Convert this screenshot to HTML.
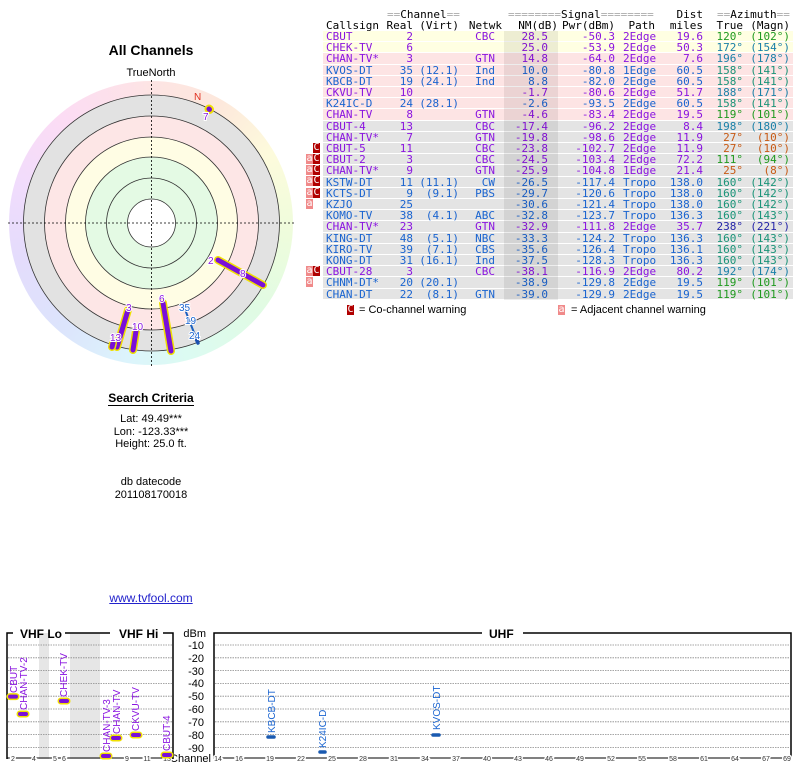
<!DOCTYPE html>
<html><head><meta charset="utf-8"><style>
body{margin:0;width:800px;height:768px;background:#fff;position:relative;overflow:hidden;font-family:"Liberation Sans",sans-serif}
.t{position:absolute;white-space:nowrap}
.c{text-align:center}
.tb{position:absolute;left:323px;width:470px;font-family:"DejaVu Sans Mono","Liberation Mono",monospace;font-size:11px;line-height:11px}
.r{position:absolute;left:0;width:470px;height:10.2px;font-family:"DejaVu Sans Mono","Liberation Mono",monospace;font-size:11px;line-height:11px;border-bottom:1px solid #fff}
.r span,.tb span{position:absolute;top:0;white-space:nowrap}
.y{background:#ffffe2}.p{background:#fde4e4}.g{background:#e4e4e4}
.cs{left:3px}.re{right:380px}.vi{right:334px}.nw{right:298px}.nm{right:245px}.pw{right:178px}.pa{left:300px}.di{right:90px}.tr{right:50px}.mg{right:3px}
.P{color:#8a14e0}.B{color:#1a64d0}
.gr{color:#1f9a1f}.tl{color:#1a80a8}.tg{color:#1a9478}.or{color:#c85a14}.db{color:#2424a8}
.eq{color:#aaa}
.w{position:absolute;height:10px;font-family:"DejaVu Sans Mono",monospace;font-size:10px;line-height:10px;color:#fff;text-align:center;width:7px}
.wa{background:#f08a8a}.wc{background:#b00000}
</style></head><body>
<div class="t c" style="left:51px;width:200px;top:42px;font-size:14px;font-weight:bold">All Channels</div>
<div class="t c" style="left:101px;width:100px;top:67px;font-size:11px">TrueNorth</div>
<div class="t c" style="left:51px;width:200px;top:391px;font-size:12px;font-weight:bold;"><span style="border-bottom:1px solid #000">Search Criteria</span></div>
<div class="t c" style="left:51px;width:200px;top:413px;font-size:11px;line-height:12.5px">Lat: 49.49***<br>Lon: -123.33***<br>Height: 25.0 ft.</div>
<div class="t c" style="left:51px;width:200px;top:476px;font-size:11px;line-height:12.5px">db datecode<br>201108170018</div>
<div class="t c" style="left:51px;width:200px;top:591px;font-size:12px;color:#2222cc;text-decoration:underline">www.tvfool.com</div>

<div style="position:absolute;left:9px;top:81px;width:284px;height:284px;border-radius:50%;background:conic-gradient(#fde4e4 0deg,#fde8dc 30deg,#fdfbdc 60deg,#eefcdc 95deg,#e0fbe4 130deg,#dcfbf2 165deg,#dcf4fc 190deg,#dce4fc 220deg,#e4dcfc 255deg,#f0dcfc 285deg,#fcdcf4 320deg,#fde4e4 360deg)"></div>
<svg style="position:absolute;left:0;top:0" width="300" height="380">
<circle cx="151.5" cy="223" r="128" fill="#e2e2e2" stroke="#333" stroke-width="0.8"/>
<circle cx="151.5" cy="223" r="107" fill="#fde6e6" stroke="#333" stroke-width="0.8"/>
<circle cx="151.5" cy="223" r="86" fill="#fffde4" stroke="#333" stroke-width="0.8"/>
<circle cx="151.5" cy="223" r="66" fill="#e4fae4" stroke="#333" stroke-width="0.8"/>
<circle cx="151.5" cy="223" r="45" fill="#e4fae4" stroke="#333" stroke-width="0.8"/>
<circle cx="151.5" cy="223" r="24" fill="#fff" stroke="#333" stroke-width="0.8"/>
<line x1="8" y1="223" x2="296" y2="223" stroke="#000" stroke-width="0.8" stroke-dasharray="2,2"/>
<line x1="151.5" y1="80" x2="151.5" y2="367" stroke="#000" stroke-width="0.8" stroke-dasharray="2,2"/>
<text x="194" y="100" font-size="10" fill="#e03020" font-family="Liberation Sans">N</text>
<g stroke-linecap="round">
<line x1="209" y1="109" x2="209.5" y2="109.5" stroke="#f0e000" stroke-width="9"/>
<line x1="209" y1="109" x2="209.5" y2="109.5" stroke="#7a10d8" stroke-width="5"/>
<line x1="218" y1="260" x2="263" y2="285" stroke="#f0e000" stroke-width="8"/>
<line x1="218" y1="260" x2="263" y2="285" stroke="#7a10d8" stroke-width="5"/>
<line x1="163" y1="303" x2="171" y2="351" stroke="#f0e000" stroke-width="8"/>
<line x1="163" y1="303" x2="171" y2="351" stroke="#7a10d8" stroke-width="5"/>
<line x1="128" y1="310" x2="117" y2="347" stroke="#f0e000" stroke-width="8"/>
<line x1="128" y1="310" x2="117" y2="347" stroke="#7a10d8" stroke-width="5"/>
<line x1="113" y1="343" x2="112" y2="347" stroke="#f0e000" stroke-width="8"/>
<line x1="113" y1="343" x2="112" y2="347" stroke="#7a10d8" stroke-width="5"/>
<line x1="136" y1="331" x2="133" y2="350" stroke="#f0e000" stroke-width="8"/>
<line x1="136" y1="331" x2="133" y2="350" stroke="#7a10d8" stroke-width="5"/>
<line x1="186" y1="312" x2="198" y2="343" stroke="#1a60c0" stroke-width="2"/>
<line x1="194" y1="334" x2="198" y2="343" stroke="#1a50b0" stroke-width="3.5"/>
</g>
<g font-family="Liberation Sans" font-size="10" fill="#8a14e0" stroke="#fff" stroke-width="2" paint-order="stroke">
<text x="203" y="120">7</text><text x="208" y="264">2</text><text x="240" y="277">8</text>
<text x="159" y="302">6</text><text x="126" y="311">3</text><text x="132" y="330">10</text><text x="110" y="341">13</text>
</g>
<g font-family="Liberation Sans" font-size="10" fill="#1a64d0" stroke="#fff" stroke-width="2" paint-order="stroke">
<text x="179" y="311">35</text><text x="185" y="324">19</text><text x="189" y="339">24</text>
</g>
</svg>

<div class="tb" style="top:9px;height:11px"><span style="left:64px"><span class="eq" style="position:static">==</span>Channel<span class="eq" style="position:static">==</span></span><span style="left:185px"><span class="eq" style="position:static">========</span>Signal<span class="eq" style="position:static">========</span></span><span class="di">Dist</span><span style="left:394px"><span class="eq" style="position:static">==</span>Azimuth<span class="eq" style="position:static">==</span></span></div>
<div class="tb" style="top:20px;height:11px"><span class="cs">Callsign</span><span class="re">Real</span><span class="vi">(Virt)</span><span style="right:291px">Netwk</span><span style="right:235px">NM(dB)</span><span class="pw">Pwr(dBm)</span><span style="right:138px">Path</span><span class="di">miles</span><span class="tr">True</span><span class="mg">(Magn)</span></div>

<div style="position:absolute;left:323px;top:31px;width:470px;height:270px">
<div class="r y P" style="top:0"><span class="cs">CBUT</span><span class="re">2</span><span class="nw">CBC</span><span class="nm">28.5</span><span class="pw">-50.3</span><span class="pa">2Edge</span><span class="di">19.6</span><span class="tr gr">120°</span><span class="mg gr">(102°)</span></div>
<div class="r y P" style="top:11.2px"><span class="cs">CHEK-TV</span><span class="re">6</span><span class="nm">25.0</span><span class="pw">-53.9</span><span class="pa">2Edge</span><span class="di">50.3</span><span class="tr tl">172°</span><span class="mg tl">(154°)</span></div>
<div class="r p P" style="top:22.4px"><span class="cs">CHAN-TV*</span><span class="re">3</span><span class="nw">GTN</span><span class="nm">14.8</span><span class="pw">-64.0</span><span class="pa">2Edge</span><span class="di">7.6</span><span class="tr tl">196°</span><span class="mg tl">(178°)</span></div>
<div class="r p B" style="top:33.6px"><span class="cs">KVOS-DT</span><span class="re">35</span><span class="vi">(12.1)</span><span class="nw">Ind</span><span class="nm">10.0</span><span class="pw">-80.8</span><span class="pa">1Edge</span><span class="di">60.5</span><span class="tr tg">158°</span><span class="mg tg">(141°)</span></div>
<div class="r p B" style="top:44.8px"><span class="cs">KBCB-DT</span><span class="re">19</span><span class="vi">(24.1)</span><span class="nw">Ind</span><span class="nm">8.8</span><span class="pw">-82.0</span><span class="pa">2Edge</span><span class="di">60.5</span><span class="tr tg">158°</span><span class="mg tg">(141°)</span></div>
<div class="r p P" style="top:56px"><span class="cs">CKVU-TV</span><span class="re">10</span><span class="nm">-1.7</span><span class="pw">-80.6</span><span class="pa">2Edge</span><span class="di">51.7</span><span class="tr tl">188°</span><span class="mg tl">(171°)</span></div>
<div class="r p B" style="top:67.2px"><span class="cs">K24IC-D</span><span class="re">24</span><span class="vi">(28.1)</span><span class="nm">-2.6</span><span class="pw">-93.5</span><span class="pa">2Edge</span><span class="di">60.5</span><span class="tr tg">158°</span><span class="mg tg">(141°)</span></div>
<div class="r p P" style="top:78.4px"><span class="cs">CHAN-TV</span><span class="re">8</span><span class="nw">GTN</span><span class="nm">-4.6</span><span class="pw">-83.4</span><span class="pa">2Edge</span><span class="di">19.5</span><span class="tr gr">119°</span><span class="mg gr">(101°)</span></div>
<div class="r g P" style="top:89.6px"><span class="cs">CBUT-4</span><span class="re">13</span><span class="nw">CBC</span><span class="nm">-17.4</span><span class="pw">-96.2</span><span class="pa">2Edge</span><span class="di">8.4</span><span class="tr tl">198°</span><span class="mg tl">(180°)</span></div>
<div class="r g P" style="top:100.8px"><span class="cs">CHAN-TV*</span><span class="re">7</span><span class="nw">GTN</span><span class="nm">-19.8</span><span class="pw">-98.6</span><span class="pa">2Edge</span><span class="di">11.9</span><span class="tr or">27°</span><span class="mg or">(10°)</span></div>
<div class="r g P" style="top:112px"><span class="cs">CBUT-5</span><span class="re">11</span><span class="nw">CBC</span><span class="nm">-23.8</span><span class="pw">-102.7</span><span class="pa">2Edge</span><span class="di">11.9</span><span class="tr or">27°</span><span class="mg or">(10°)</span></div>
<div class="r g P" style="top:123.2px"><span class="cs">CBUT-2</span><span class="re">3</span><span class="nw">CBC</span><span class="nm">-24.5</span><span class="pw">-103.4</span><span class="pa">2Edge</span><span class="di">72.2</span><span class="tr gr">111°</span><span class="mg gr">(94°)</span></div>
<div class="r g P" style="top:134.4px"><span class="cs">CHAN-TV*</span><span class="re">9</span><span class="nw">GTN</span><span class="nm">-25.9</span><span class="pw">-104.8</span><span class="pa">1Edge</span><span class="di">21.4</span><span class="tr or">25°</span><span class="mg or">(8°)</span></div>
<div class="r g B" style="top:145.6px"><span class="cs">KSTW-DT</span><span class="re">11</span><span class="vi">(11.1)</span><span class="nw">CW</span><span class="nm">-26.5</span><span class="pw">-117.4</span><span class="pa">Tropo</span><span class="di">138.0</span><span class="tr tg">160°</span><span class="mg tg">(142°)</span></div>
<div class="r g B" style="top:156.8px"><span class="cs">KCTS-DT</span><span class="re">9</span><span class="vi">(9.1)</span><span class="nw">PBS</span><span class="nm">-29.7</span><span class="pw">-120.6</span><span class="pa">Tropo</span><span class="di">138.0</span><span class="tr tg">160°</span><span class="mg tg">(142°)</span></div>
<div class="r g B" style="top:168px"><span class="cs">KZJO</span><span class="re">25</span><span class="nm">-30.6</span><span class="pw">-121.4</span><span class="pa">Tropo</span><span class="di">138.0</span><span class="tr tg">160°</span><span class="mg tg">(142°)</span></div>
<div class="r g B" style="top:179.2px"><span class="cs">KOMO-TV</span><span class="re">38</span><span class="vi">(4.1)</span><span class="nw">ABC</span><span class="nm">-32.8</span><span class="pw">-123.7</span><span class="pa">Tropo</span><span class="di">136.3</span><span class="tr tg">160°</span><span class="mg tg">(143°)</span></div>
<div class="r g P" style="top:190.4px"><span class="cs">CHAN-TV*</span><span class="re">23</span><span class="nw">GTN</span><span class="nm">-32.9</span><span class="pw">-111.8</span><span class="pa">2Edge</span><span class="di">35.7</span><span class="tr db">238°</span><span class="mg db">(221°)</span></div>
<div class="r g B" style="top:201.6px"><span class="cs">KING-DT</span><span class="re">48</span><span class="vi">(5.1)</span><span class="nw">NBC</span><span class="nm">-33.3</span><span class="pw">-124.2</span><span class="pa">Tropo</span><span class="di">136.3</span><span class="tr tg">160°</span><span class="mg tg">(143°)</span></div>
<div class="r g B" style="top:212.8px"><span class="cs">KIRO-TV</span><span class="re">39</span><span class="vi">(7.1)</span><span class="nw">CBS</span><span class="nm">-35.6</span><span class="pw">-126.4</span><span class="pa">Tropo</span><span class="di">136.1</span><span class="tr tg">160°</span><span class="mg tg">(143°)</span></div>
<div class="r g B" style="top:224px"><span class="cs">KONG-DT</span><span class="re">31</span><span class="vi">(16.1)</span><span class="nw">Ind</span><span class="nm">-37.5</span><span class="pw">-128.3</span><span class="pa">Tropo</span><span class="di">136.3</span><span class="tr tg">160°</span><span class="mg tg">(143°)</span></div>
<div class="r g P" style="top:235.2px"><span class="cs">CBUT-28</span><span class="re">3</span><span class="nw">CBC</span><span class="nm">-38.1</span><span class="pw">-116.9</span><span class="pa">2Edge</span><span class="di">80.2</span><span class="tr tl">192°</span><span class="mg tl">(174°)</span></div>
<div class="r g B" style="top:246.4px"><span class="cs">CHNM-DT*</span><span class="re">20</span><span class="vi">(20.1)</span><span class="nm">-38.9</span><span class="pw">-129.8</span><span class="pa">2Edge</span><span class="di">19.5</span><span class="tr gr">119°</span><span class="mg gr">(101°)</span></div>
<div class="r g B" style="top:257.6px"><span class="cs">CHAN-DT</span><span class="re">22</span><span class="vi">(8.1)</span><span class="nw">GTN</span><span class="nm">-39.0</span><span class="pw">-129.9</span><span class="pa">2Edge</span><span class="di">19.5</span><span class="tr gr">119°</span><span class="mg gr">(101°)</span></div>
<div style="position:absolute;left:181px;top:0;width:54px;height:269px;background:rgba(0,0,0,0.07)"></div>
</div>

<div class="w wc" style="left:313px;top:143px">C</div>
<div class="w wa" style="left:306px;top:154px">a</div><div class="w wc" style="left:313px;top:154px">C</div>
<div class="w wa" style="left:306px;top:165px">a</div><div class="w wc" style="left:313px;top:165px">C</div>
<div class="w wa" style="left:306px;top:176px">a</div><div class="w wc" style="left:313px;top:176px">C</div>
<div class="w wa" style="left:306px;top:188px">a</div><div class="w wc" style="left:313px;top:188px">C</div>
<div class="w wa" style="left:306px;top:199px">a</div>
<div class="w wa" style="left:306px;top:266px">a</div><div class="w wc" style="left:313px;top:266px">C</div>
<div class="w wa" style="left:306px;top:277px">a</div>
<div class="w wc" style="left:347px;top:305px">C</div>
<div class="t" style="left:359px;top:304px;font-size:11px">= Co-channel warning</div>
<div class="w wa" style="left:558px;top:305px">a</div>
<div class="t" style="left:571px;top:304px;font-size:11px">= Adjacent channel warning</div>

<svg style="position:absolute;left:0;top:620px" width="800" height="148" font-family="Liberation Sans">
<rect x="39" y="13" width="10" height="126" fill="#e6e6e6"/>
<rect x="70" y="13" width="30" height="126" fill="#e6e6e6"/>
<g stroke="#888" stroke-width="0.8" stroke-dasharray="1.5,1">
<line x1="8" x2="172" y1="25" y2="25"/><line x1="8" x2="172" y1="37.8" y2="37.8"/><line x1="8" x2="172" y1="50.6" y2="50.6"/><line x1="8" x2="172" y1="63.4" y2="63.4"/><line x1="8" x2="172" y1="76.2" y2="76.2"/><line x1="8" x2="172" y1="89" y2="89"/><line x1="8" x2="172" y1="101.8" y2="101.8"/><line x1="8" x2="172" y1="114.6" y2="114.6"/><line x1="8" x2="172" y1="127.4" y2="127.4"/>
<line x1="215" x2="790" y1="25" y2="25"/><line x1="215" x2="790" y1="37.8" y2="37.8"/><line x1="215" x2="790" y1="50.6" y2="50.6"/><line x1="215" x2="790" y1="63.4" y2="63.4"/><line x1="215" x2="790" y1="76.2" y2="76.2"/><line x1="215" x2="790" y1="89" y2="89"/><line x1="215" x2="790" y1="101.8" y2="101.8"/><line x1="215" x2="790" y1="114.6" y2="114.6"/><line x1="215" x2="790" y1="127.4" y2="127.4"/>
</g>
<g stroke="#000" stroke-width="1.5" fill="none">
<polyline points="13,13 7,13 7,139"/><line x1="65" y1="13" x2="110" y2="13"/><polyline points="163,13 173,13 173,139"/>
<polyline points="482,13 214,13 214,139"/><polyline points="523,13 791,13 791,139"/>
<line x1="7" y1="138" x2="173" y2="138" stroke-width="1"/><line x1="214" y1="138" x2="791" y2="138" stroke-width="1"/>
</g>
<g font-size="12" font-weight="bold"><text x="20" y="18">VHF Lo</text><text x="119" y="18">VHF Hi</text><text x="489" y="18">UHF</text></g>
<g font-size="11" text-anchor="end"><text x="206" y="17" >dBm</text><text x="204" y="29">-10</text><text x="204" y="42">-20</text><text x="204" y="55">-30</text><text x="204" y="67">-40</text><text x="204" y="80">-50</text><text x="204" y="93">-60</text><text x="204" y="106">-70</text><text x="204" y="119">-80</text><text x="204" y="132">-90</text><text x="211" y="142">Channel</text></g>
<g font-size="7" text-anchor="middle" fill="#333" stroke="#fff" stroke-width="3" paint-order="stroke">
<text x="13" y="141">2</text><text x="34" y="141">4</text><text x="55" y="141">5</text><text x="64" y="141">6</text><text x="127" y="141">9</text><text x="147" y="141">11</text><text x="167" y="141">13</text>
<text x="218" y="141">14</text><text x="239" y="141">16</text><text x="270" y="141">19</text><text x="301" y="141">22</text><text x="332" y="141">25</text><text x="363" y="141">28</text><text x="394" y="141">31</text><text x="425" y="141">34</text><text x="456" y="141">37</text><text x="487" y="141">40</text><text x="518" y="141">43</text><text x="549" y="141">46</text><text x="580" y="141">49</text><text x="611" y="141">52</text><text x="642" y="141">55</text><text x="673" y="141">58</text><text x="704" y="141">61</text><text x="735" y="141">64</text><text x="766" y="141">67</text><text x="787" y="141">69</text>
</g>
<g stroke-linecap="round">
<g stroke="#f0e000" stroke-width="7"><line x1="10" x2="16" y1="76.6" y2="76.6"/><line x1="20" x2="26" y1="94" y2="94"/><line x1="61" x2="67" y1="81" y2="81"/><line x1="103" x2="109" y1="136" y2="136"/><line x1="113" x2="119" y1="118" y2="118"/><line x1="133" x2="139" y1="115" y2="115"/><line x1="164" x2="170" y1="135" y2="135"/></g>
<g stroke="#7a10d8" stroke-width="4"><line x1="10" x2="16" y1="76.6" y2="76.6"/><line x1="20" x2="26" y1="94" y2="94"/><line x1="61" x2="67" y1="81" y2="81"/><line x1="103" x2="109" y1="136" y2="136"/><line x1="113" x2="119" y1="118" y2="118"/><line x1="133" x2="139" y1="115" y2="115"/><line x1="164" x2="170" y1="135" y2="135"/></g>
<g stroke="#1a5ab0" stroke-width="3.5"><line x1="268" x2="274" y1="117" y2="117"/><line x1="320" x2="325" y1="132" y2="132"/><line x1="433" x2="439" y1="115" y2="115"/></g>
</g>
<g font-size="10" fill="#8a14e0">
<text transform="translate(17,73) rotate(-90)">CBUT</text>
<text transform="translate(27,90) rotate(-90)">CHAN-TV-2</text>
<text transform="translate(67,77) rotate(-90)">CHEK-TV</text>
<text transform="translate(110,132) rotate(-90)">CHAN-TV-3</text>
<text transform="translate(120,114) rotate(-90)">CHAN-TV</text>
<text transform="translate(139,111) rotate(-90)">CKVU-TV</text>
<text transform="translate(170,131) rotate(-90)">CBUT-4</text>
</g>
<g font-size="10" fill="#1a64d0">
<text transform="translate(275,113) rotate(-90)">KBCB-DT</text>
<text transform="translate(326,128) rotate(-90)">K24IC-D</text>
<text transform="translate(440,110) rotate(-90)">KVOS-DT</text>
</g>
</svg>
</body></html>
